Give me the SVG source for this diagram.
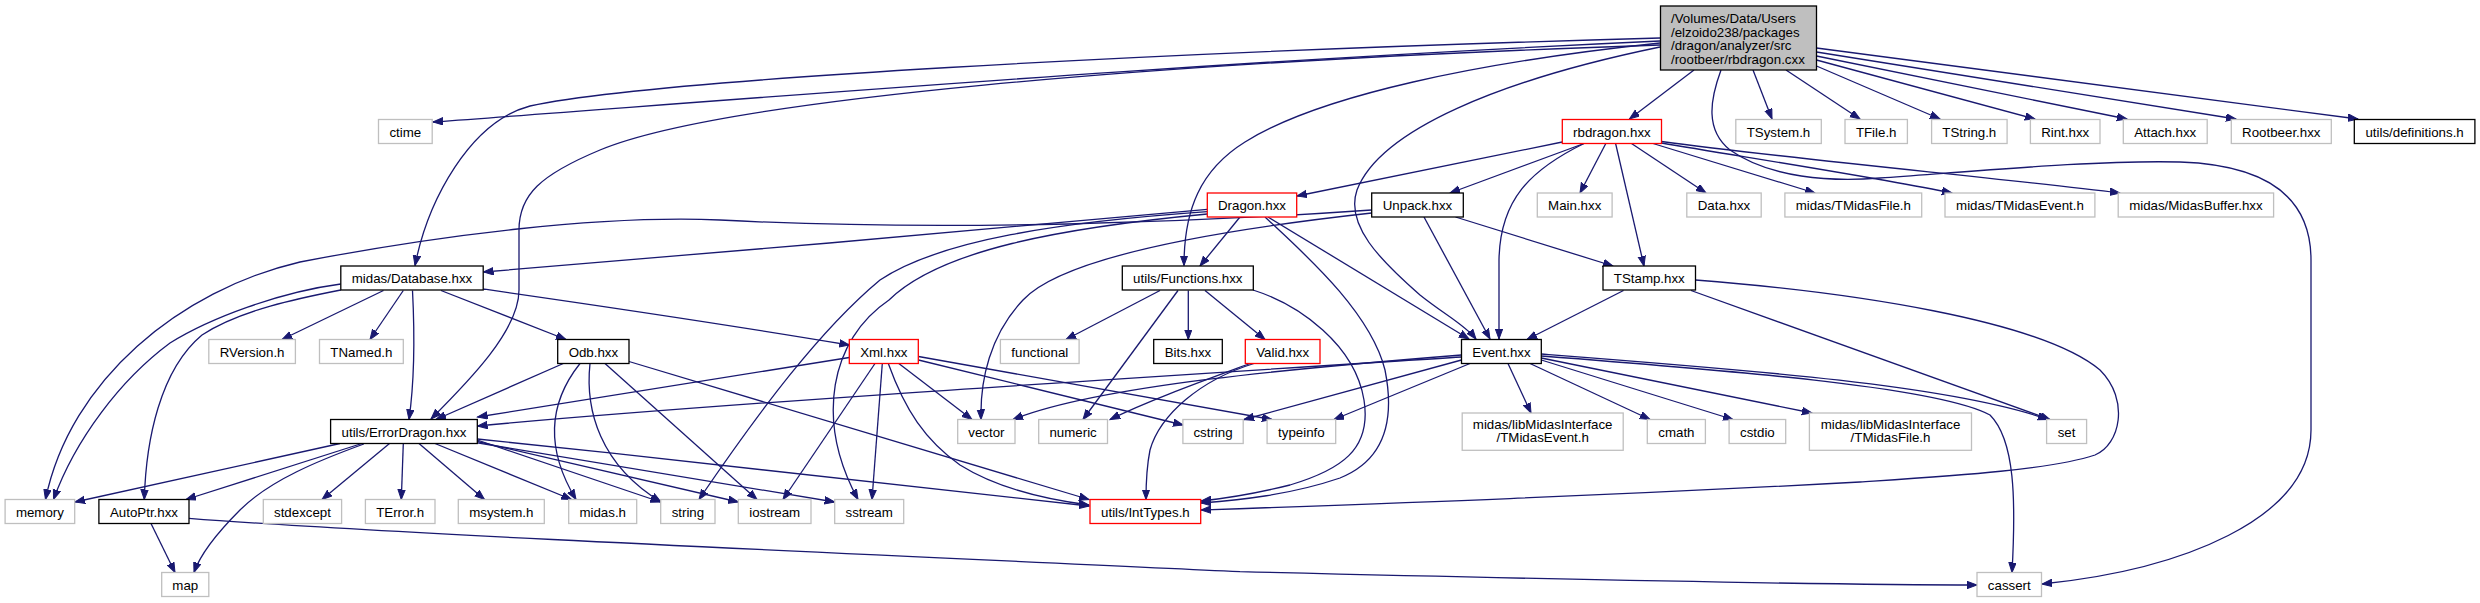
<svg xmlns="http://www.w3.org/2000/svg" width="2480" height="603" viewBox="0 0 2480 603">
<style>
rect{fill:#fff;stroke-width:1.3}
.g{stroke:#bfbfbf}.b{stroke:#000}.r{stroke:#f00}
.top{fill:#bfbfbf;stroke:#000}
text{font-family:"Liberation Sans",Arial,sans-serif;font-size:13.3px;fill:#000;text-anchor:middle}
.l{text-anchor:start}
#edges path{fill:none;stroke:#191970;stroke-width:1.3;marker-end:url(#a)}
</style>
<defs>
<marker id="a" markerWidth="12" markerHeight="10" refX="10" refY="4" orient="auto" markerUnits="userSpaceOnUse"><path d="M0,0.3 L10,4 L0,7.7 z" fill="#191970" stroke="#191970" stroke-width="1"/></marker>
</defs>
<rect width="2480" height="603" style="fill:#fff;stroke:none"/>
<g id="edges">
<path d="M1660,41 C1200,62 800,95 433,122"/>
<path d="M1660,38 C1150,52 650,80 530,106 C470,122 428,200 415,265.5"/>
<path d="M1660,45 C1150,62 720,100 600,150 C540,175 519,195 519,230 L519,290 C519,330 470,380 431,419"/>
<path d="M1660,43 C1480,62 1320,95 1245,142 C1200,170 1184,210 1184,265.5"/>
<path d="M1660,47 C1500,80 1380,130 1357,190 C1345,225 1380,260 1420,295 C1445,315 1465,325 1476,339"/>
<path d="M1694,70 L1629.5,119"/>
<path d="M1753,70 L1772,119"/>
<path d="M1786,70 L1860,119"/>
<path d="M1816.5,66 L1940,119"/>
<path d="M1816.5,60 L2035,119"/>
<path d="M1816.5,56 L2127,119"/>
<path d="M1816.5,52 L2236,119"/>
<path d="M1816.5,48 L2358,119"/>
<path d="M1721,70 C1710,100 1705,130 1730,150 C1770,178 1830,182 1880,178 C1990,170 2100,160 2180,162 C2270,165 2311,200 2311,260 L2311,430 C2311,520 2180,570 2042,584"/>
<path d="M1562.3,142 L1297,196"/>
<path d="M1584,143.5 L1450,193"/>
<path d="M1605.8,143.5 L1580,193"/>
<path d="M1615.6,143.5 L1644,266"/>
<path d="M1631.5,143.5 L1706,193"/>
<path d="M1653,143.5 L1815,193"/>
<path d="M1661.5,143 C1750,158 1880,178 1952,193"/>
<path d="M1661.5,141.5 C1800,160 2000,178 2120,193"/>
<path d="M1584,143.5 C1530,170 1500,200 1499,260 L1499,339"/>
<path d="M1207.3,209.3 C1000,228 700,255 483.5,272"/>
<path d="M1207.3,211.7 C1060,222 940,240 880,280 C820,330 760,410 699,499.5"/>
<path d="M1207.3,214 C1060,228 940,250 889,300 C830,340 815,420 858,499.5"/>
<path d="M1240,217 L1200,266"/>
<path d="M1268,217 L1469,339"/>
<path d="M1265,217 C1300,250 1370,310 1385,370 C1395,420 1385,460 1340,478 C1290,495 1240,500 1201,503"/>
<path d="M1253,290 C1300,305 1355,345 1364,400 C1372,450 1340,470 1290,485 C1250,495 1220,499 1201,501"/>
<path d="M1371.7,210 C1200,222 950,232 720,220 C600,215 440,235 300,262 C180,290 70,380 45.5,499.5"/>
<path d="M1371.7,213 C1200,232 1060,260 1023,300 C990,335 980,380 981,419.5"/>
<path d="M1455.5,217 L1613,266"/>
<path d="M1424,217 L1490,339"/>
<path d="M1160,290.5 L1066,339.5"/>
<path d="M1178,290.5 L1083,419.5"/>
<path d="M1188.3,290.5 L1188.3,339.5"/>
<path d="M1205,290.5 L1265,339.5"/>
<path d="M1250,363.5 C1200,382 1150,400 1110,419.5"/>
<path d="M1254,363.5 C1200,380 1160,415 1150,450 C1146,470 1146,485 1146,499.5"/>
<path d="M1623.5,290.5 L1527,339.5"/>
<path d="M1691,290.5 L2050,419.5"/>
<path d="M1695.5,280 C1850,292 2040,320 2100,370 C2130,400 2120,445 2095,455 C2050,470 1950,476 1860,482 C1600,496 1400,503 1201,510"/>
<path d="M1461.5,357 C1100,380 700,405 477.5,426"/>
<path d="M1461.5,355 C1300,368 1100,385 1013,419.5"/>
<path d="M1461.5,360 L1244,419.5"/>
<path d="M1470,363.5 L1334,419.5"/>
<path d="M1508,363.5 L1531,413"/>
<path d="M1530,363.5 L1650,419.5"/>
<path d="M1541.3,360 L1733,419.5"/>
<path d="M1541.3,358 L1812,413"/>
<path d="M1541.3,354 C1750,370 1950,385 2048,419.5"/>
<path d="M1541.3,356 C1750,372 1940,388 1990,415 C2015,440 2016,500 2012,572.5"/>
<path d="M340.8,284 C280,292 210,318 170,343 C120,380 75,440 53.5,499.5"/>
<path d="M340.8,290 C300,298 240,310 202,335 C160,370 146,440 144.3,499.5"/>
<path d="M383.5,290.5 L282,339.5"/>
<path d="M403.3,290.5 L370,339.5"/>
<path d="M412.5,290.5 C414,320 416,370 409,419.5"/>
<path d="M441,290.5 L566,339.5"/>
<path d="M483.2,289 C560,300 700,320 849.3,345"/>
<path d="M563.3,363.5 L436,419.5"/>
<path d="M580,363.5 C555,395 540,440 576,499.5"/>
<path d="M590,363.5 C585,410 600,465 661,502"/>
<path d="M605,363.5 L757,499.5"/>
<path d="M629,361.5 L1089,499.5"/>
<path d="M849.3,357.5 L477.5,417"/>
<path d="M875,363.5 L783,499.5"/>
<path d="M882.3,363.5 L872,499.5"/>
<path d="M888.3,363.5 C905,410 925,440 960,465 C1000,490 1050,500 1089,505"/>
<path d="M898.8,363.5 L972,419.5"/>
<path d="M918.5,360 L1183,425"/>
<path d="M918.5,356.5 L1272,419.5"/>
<path d="M340,443.5 L75,502"/>
<path d="M361.8,443.5 L186,499.5"/>
<path d="M363.8,444 C320,460 270,480 240,510 C215,535 200,555 194,572.5"/>
<path d="M389.5,443.5 L322,499.5"/>
<path d="M403.3,443.5 L401.3,499.5"/>
<path d="M419,443.5 L484.5,499.5"/>
<path d="M435,443.5 L571.5,499.5"/>
<path d="M477.3,440 L660.5,502"/>
<path d="M477.3,441.5 L738.3,502"/>
<path d="M477.3,442.8 L834.7,502"/>
<path d="M477.3,439 C700,462 950,490 1089,506"/>
<path d="M151,523.5 L175,572.5"/>
<path d="M189,518.3 C400,535 1000,560 1240,571.7 C1500,578 1800,585 1977,585"/>
</g>
<g id="n0"><rect class="top" x="1660.5" y="6" width="156" height="64"/><text class="l" x="1671" y="23">/Volumes/Data/Users</text><text class="l" x="1671" y="36.5">/elzoido238/packages</text><text class="l" x="1671" y="50">/dragon/analyzer/src</text><text class="l" x="1671" y="63.5">/rootbeer/rbdragon.cxx</text></g>
<g id="ctime"><rect class="g" x="378.5" y="119.5" width="53.7" height="24"/><text x="405.3" y="136.5">ctime</text></g>
<g id="rbdragon"><rect class="r" x="1562.3" y="119.5" width="99.2" height="24"/><text x="1611.9" y="136.5">rbdragon.hxx</text></g>
<g id="tsystem"><rect class="g" x="1735.8" y="119.5" width="85.5" height="24"/><text x="1778.5" y="136.5">TSystem.h</text></g>
<g id="tfile"><rect class="g" x="1845" y="119.5" width="62.4" height="24"/><text x="1876.2" y="136.5">TFile.h</text></g>
<g id="tstring"><rect class="g" x="1931.6" y="119.5" width="75.5" height="24"/><text x="1969.3" y="136.5">TString.h</text></g>
<g id="rint"><rect class="g" x="2030.4" y="119.5" width="69.6" height="24"/><text x="2065.2" y="136.5">Rint.hxx</text></g>
<g id="attach"><rect class="g" x="2123.3" y="119.5" width="83.9" height="24"/><text x="2165.2" y="136.5">Attach.hxx</text></g>
<g id="rootbeer"><rect class="g" x="2231.3" y="119.5" width="100" height="24"/><text x="2281.3" y="136.5">Rootbeer.hxx</text></g>
<g id="defs"><rect class="b" x="2354.3" y="119.5" width="120.6" height="24"/><text x="2414.6" y="136.5">utils/definitions.h</text></g>
<g id="dragon"><rect class="r" x="1207.3" y="193" width="89.4" height="24"/><text x="1252" y="210">Dragon.hxx</text></g>
<g id="unpack"><rect class="b" x="1371.7" y="193" width="91.6" height="24"/><text x="1417.5" y="210">Unpack.hxx</text></g>
<g id="main"><rect class="g" x="1537.3" y="193" width="74.8" height="24"/><text x="1574.7" y="210">Main.hxx</text></g>
<g id="data"><rect class="g" x="1686.8" y="193" width="74.4" height="24"/><text x="1724" y="210">Data.hxx</text></g>
<g id="tmfile"><rect class="g" x="1784.9" y="193" width="136.8" height="24"/><text x="1853.3" y="210">midas/TMidasFile.h</text></g>
<g id="tmevent"><rect class="g" x="1945" y="193" width="149.9" height="24"/><text x="2020" y="210">midas/TMidasEvent.h</text></g>
<g id="mbuffer"><rect class="g" x="2118.2" y="193" width="155.4" height="24"/><text x="2195.9" y="210">midas/MidasBuffer.hxx</text></g>
<g id="database"><rect class="b" x="340.8" y="266" width="142.4" height="24"/><text x="412" y="283">midas/Database.hxx</text></g>
<g id="functions"><rect class="b" x="1122.3" y="266" width="131" height="24"/><text x="1187.8" y="283">utils/Functions.hxx</text></g>
<g id="tstamp"><rect class="b" x="1603" y="266" width="92.5" height="24"/><text x="1649.3" y="283">TStamp.hxx</text></g>
<g id="rversion"><rect class="g" x="208.8" y="339.5" width="86.6" height="24"/><text x="252.1" y="356.5">RVersion.h</text></g>
<g id="tnamed"><rect class="g" x="319.5" y="339.5" width="83.8" height="24"/><text x="361.4" y="356.5">TNamed.h</text></g>
<g id="odb"><rect class="b" x="557.7" y="339.5" width="71.3" height="24"/><text x="593.4" y="356.5">Odb.hxx</text></g>
<g id="xml"><rect class="r" x="849.3" y="339.5" width="69" height="24"/><text x="883.8" y="356.5">Xml.hxx</text></g>
<g id="functional"><rect class="g" x="1000.4" y="339.5" width="78.7" height="24"/><text x="1039.8" y="356.5">functional</text></g>
<g id="bits"><rect class="b" x="1153.7" y="339.5" width="68.6" height="24"/><text x="1188" y="356.5">Bits.hxx</text></g>
<g id="valid"><rect class="r" x="1245.3" y="339.5" width="74.7" height="24"/><text x="1282.7" y="356.5">Valid.hxx</text></g>
<g id="event"><rect class="b" x="1461.5" y="339.5" width="79.8" height="24"/><text x="1501.4" y="356.5">Event.hxx</text></g>
<g id="errordragon"><rect class="b" x="330.6" y="419.5" width="146.7" height="24"/><text x="404" y="436.5">utils/ErrorDragon.hxx</text></g>
<g id="vector"><rect class="g" x="957.7" y="419.5" width="57.3" height="24"/><text x="986.4" y="436.5">vector</text></g>
<g id="numeric"><rect class="g" x="1038.7" y="419.5" width="68.8" height="24"/><text x="1073.1" y="436.5">numeric</text></g>
<g id="cstring"><rect class="g" x="1182.9" y="419.5" width="60.3" height="24"/><text x="1213" y="436.5">cstring</text></g>
<g id="typeinfo"><rect class="g" x="1267.1" y="419.5" width="68.6" height="24"/><text x="1301.4" y="436.5">typeinfo</text></g>
<g id="libevent"><rect class="g" x="1462.2" y="413" width="161" height="37.3"/><text x="1542.7" y="428.5">midas/libMidasInterface</text><text x="1542.7" y="442">/TMidasEvent.h</text></g>
<g id="cmath"><rect class="g" x="1647.3" y="419.5" width="58.1" height="24"/><text x="1676.4" y="436.5">cmath</text></g>
<g id="cstdio"><rect class="g" x="1729.1" y="419.5" width="56.6" height="24"/><text x="1757.4" y="436.5">cstdio</text></g>
<g id="libfile"><rect class="g" x="1809.4" y="413" width="162.1" height="37.3"/><text x="1890.5" y="428.5">midas/libMidasInterface</text><text x="1890.5" y="442">/TMidasFile.h</text></g>
<g id="set"><rect class="g" x="2046.6" y="419.5" width="40" height="24"/><text x="2066.6" y="436.5">set</text></g>
<g id="memory"><rect class="g" x="5.1" y="499.5" width="69.6" height="24"/><text x="39.9" y="516.5">memory</text></g>
<g id="autoptr"><rect class="b" x="98.9" y="499.5" width="90.1" height="24"/><text x="144" y="516.5">AutoPtr.hxx</text></g>
<g id="stdexcept"><rect class="g" x="263.3" y="499.5" width="78.3" height="24"/><text x="302.5" y="516.5">stdexcept</text></g>
<g id="terror"><rect class="g" x="365.4" y="499.5" width="69.6" height="24"/><text x="400.2" y="516.5">TError.h</text></g>
<g id="msystem"><rect class="g" x="458.3" y="499.5" width="86" height="24"/><text x="501.3" y="516.5">msystem.h</text></g>
<g id="midash"><rect class="g" x="568.7" y="499.5" width="68" height="24"/><text x="602.7" y="516.5">midas.h</text></g>
<g id="string"><rect class="g" x="660.7" y="499.5" width="54.3" height="24"/><text x="687.9" y="516.5">string</text></g>
<g id="iostream"><rect class="g" x="738.3" y="499.5" width="72.7" height="24"/><text x="774.7" y="516.5">iostream</text></g>
<g id="sstream"><rect class="g" x="834.7" y="499.5" width="69" height="24"/><text x="869.2" y="516.5">sstream</text></g>
<g id="inttypes"><rect class="r" x="1090" y="499.5" width="110.7" height="24"/><text x="1145.4" y="516.5">utils/IntTypes.h</text></g>
<g id="map"><rect class="g" x="161.7" y="572.5" width="47.1" height="24"/><text x="185.3" y="589.5">map</text></g>
<g id="cassert"><rect class="g" x="1977" y="572.5" width="64.5" height="24"/><text x="2009.3" y="589.5">cassert</text></g>
</svg>
